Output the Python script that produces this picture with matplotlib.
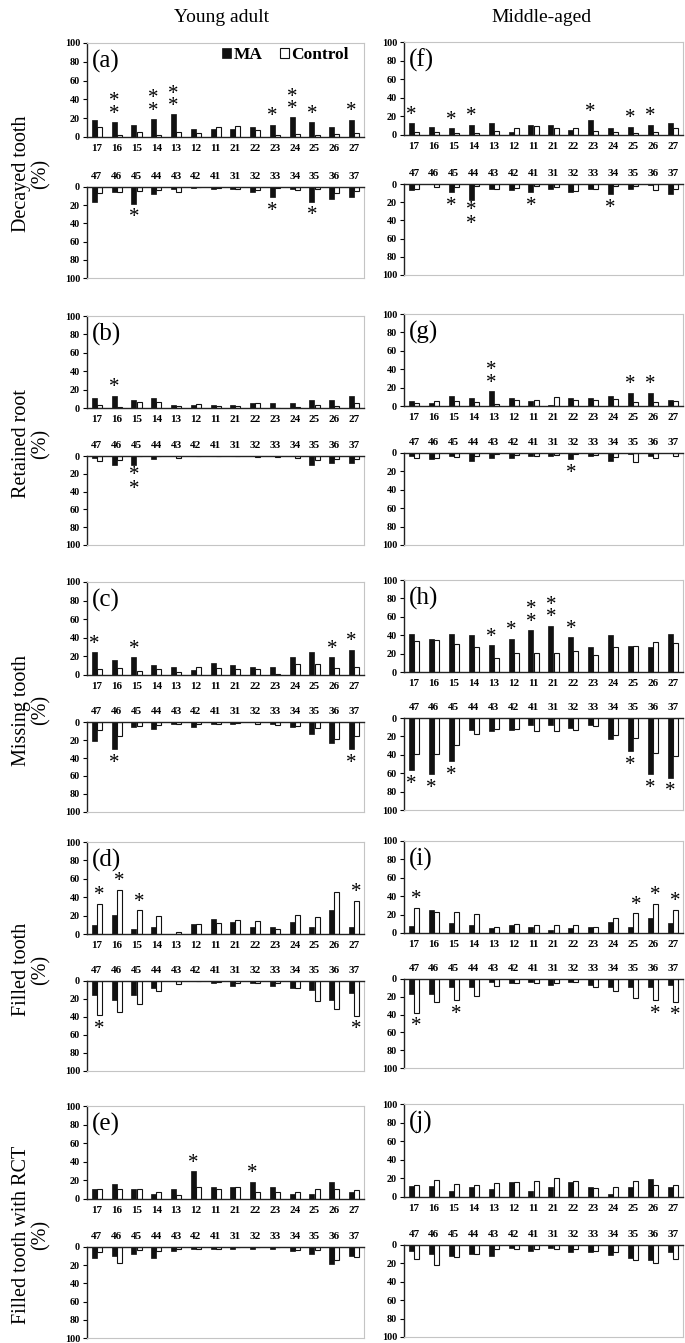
import matplotlib
matplotlib.use('Agg')
import matplotlib.pyplot as plt
import numpy as np

plt.rcParams['font.family'] = ['Liberation Serif', 'DejaVu Serif']

W, H = 685, 1343

upper_teeth = ['17', '16', '15', '14', '13', '12', '11', '21', '22', '23', '24', '25', '26', '27']
lower_teeth = ['47', '46', '45', '44', '43', '42', '41', '31', '32', '33', '34', '35', '36', '37']
row_labels = ['Decayed tooth', 'Retained root', 'Missing tooth', 'Filled tooth', 'Filled tooth with RCT']
col_titles = ['Young adult', 'Middle-aged']
series_names = ['MA', 'Control']

# ---------------- Young adult ----------------
a_up_ma = [18.6, 16, 13, 19, 24, 8, 8, 8, 10.5, 13, 21, 16, 10.5, 18.6]
a_up_ct = [10.5, 2, 5, 2, 5, 4, 11, 12, 7, 2, 3, 2, 3.5, 4]
a_up_sig = [0, 2, 0, 2, 2, 0, 0, 0, 0, 1, 2, 1, 0, 1]
a_lo_ma = [16, 5, 18.5, 7.5, 2.5, 1.5, 2, 2, 5, 11, 2.5, 16, 13, 11]
a_lo_ct = [6.5, 5, 4.5, 3, 5, 0.5, 1.5, 2, 3, 1.5, 3.5, 2, 6.5, 4.5]
a_lo_sig = [0, 0, 1, 0, 0, 0, 0, 0, 0, 1, 0, 1, 0, 0]

b_up_ma = [11, 13.3, 8.7, 11, 3, 3, 3, 3, 5.8, 5.8, 5.8, 8.7, 8.7, 13.3]
b_up_ct = [3.6, 1.5, 7, 6, 2, 4.3, 2, 2, 5.8, 0, 1, 3.6, 2.5, 5]
b_up_sig = [0, 1, 0, 0, 0, 0, 0, 0, 0, 0, 0, 0, 0, 0]
b_lo_ma = [2.5, 10, 10, 3, 0, 0, 0, 0, 0, 0, 0, 10, 8, 8]
b_lo_ct = [6, 4, 0, 0, 2.5, 0, 0, 0, 1.5, 1, 2, 4, 3.5, 3]
b_lo_sig = [0, 0, 2, 0, 0, 0, 0, 0, 0, 0, 0, 0, 0, 0]

c_up_ma = [24.5, 16, 19, 11, 8.3, 5, 13.3, 11, 8.3, 8.3, 19, 24.5, 19, 27]
c_up_ct = [6.5, 8, 4.3, 6, 3.6, 8.3, 8, 6, 6.5, 1, 12, 12, 7, 8.3]
c_up_sig = [1, 0, 1, 0, 0, 0, 0, 0, 0, 0, 0, 0, 1, 1]
c_lo_ma = [21, 30, 5, 7.6, 2.5, 5, 2.5, 2.5, 0, 2.5, 5, 13, 23, 30]
c_lo_ct = [9, 15, 4.4, 3, 2.5, 2.5, 2, 1, 2, 3.6, 4, 7, 19, 15]
c_lo_sig = [0, 1, 0, 0, 0, 0, 0, 0, 0, 0, 0, 0, 0, 1]

d_up_ma = [10, 21, 5, 8, 0, 10.5, 16, 13, 8, 8, 13, 8, 26.5, 8]
d_up_ct = [33, 48, 26, 20, 2.5, 11, 11.6, 15, 14, 5.5, 21, 19, 46, 36]
d_up_sig = [1, 1, 1, 0, 0, 0, 0, 0, 0, 0, 0, 0, 0, 1]
d_lo_ma = [15.6, 21, 15.6, 7.8, 0, 0, 2.6, 5, 2.6, 5, 7.8, 10.4, 21, 13.3]
d_lo_ct = [38, 34, 25, 10.7, 3, 0, 1, 2, 2, 2, 8, 22.6, 31, 38.5]
d_lo_sig = [1, 0, 0, 0, 0, 0, 0, 0, 0, 0, 0, 0, 0, 1]

e_up_ma = [11, 16, 11, 5, 11, 29.6, 13, 13, 18.6, 13, 5, 5, 18.6, 8]
e_up_ct = [11, 11, 11, 8, 4.3, 13, 11, 13, 7, 7, 8, 11, 11, 10]
e_up_sig = [0, 0, 0, 0, 0, 1, 0, 0, 1, 0, 0, 0, 0, 0]
e_lo_ma = [12.2, 10, 7.4, 12.2, 4.8, 2.6, 2.6, 2.2, 2.2, 2.2, 4.8, 7.4, 18.5, 10]
e_lo_ct = [5.5, 17.8, 3.7, 4.4, 1.8, 2.2, 2.2, 0, 0, 0, 3, 3.7, 14.8, 11]
e_lo_sig = [0] * 14

# ---------------- Middle-aged ----------------
f_up_ma = [12.6, 9, 7, 11, 12.6, 3.2, 11, 11, 5.4, 16, 7, 9, 11, 12.6]
f_up_ct = [3.6, 3.6, 2, 2, 4.7, 7, 10, 8, 8, 4.7, 3, 2, 3, 7]
f_up_sig = [1, 0, 1, 1, 0, 0, 0, 0, 0, 1, 0, 1, 1, 0]
f_lo_ma = [7, 0.5, 9, 18, 5, 7, 9, 6, 9, 5, 11.5, 5, 1, 10.5]
f_lo_ct = [6, 3.5, 3, 2.5, 5, 4, 2, 3, 8, 5, 2, 2, 7, 5]
f_lo_sig = [0, 0, 1, 2, 0, 0, 1, 0, 0, 0, 1, 0, 0, 0]

g_up_ma = [5, 3.3, 11, 9, 16.4, 9, 5, 1, 9, 9, 11, 14.6, 14.6, 7]
g_up_ct = [3.3, 5.5, 5, 4, 2.5, 6.6, 6.2, 9.5, 6, 6, 8, 4.4, 4.4, 5]
g_up_sig = [0, 0, 0, 0, 2, 0, 0, 0, 0, 0, 0, 1, 1, 0]
g_lo_ma = [3.3, 7, 3.3, 9, 5, 5, 3.3, 3.3, 7, 3.3, 9, 1.5, 3.6, 0]
g_lo_ct = [5, 5, 4.4, 3.6, 1, 2.5, 3.3, 2, 1.5, 2.5, 4.4, 10, 5, 3.3]
g_lo_sig = [0, 0, 0, 0, 0, 0, 0, 0, 1, 0, 0, 0, 0, 0]

h_up_ma = [41, 36.4, 41, 40, 29, 36, 45.5, 50.5, 38, 27, 40, 28.7, 27, 41.5]
h_up_ct = [33.5, 35.3, 30, 27, 15.6, 20.7, 20.7, 21, 22.5, 18, 27, 28.7, 33, 32]
h_up_sig = [0, 0, 0, 0, 1, 1, 2, 2, 1, 0, 0, 0, 0, 0]
h_lo_ma = [57, 61, 47, 13, 14.4, 13, 7.4, 7.4, 10.4, 7.4, 23.3, 36, 61, 65]
h_lo_ct = [39, 39, 29, 17, 12, 12, 14, 13.7, 13, 8.5, 18.5, 22, 38, 41]
h_lo_sig = [1, 1, 1, 0, 0, 0, 0, 0, 0, 0, 0, 1, 1, 1]

i_up_ma = [7.3, 25.5, 10.6, 8.8, 5, 8.8, 7, 3.3, 5, 7, 12.4, 7, 16, 10.6]
i_up_ct = [27.7, 22.3, 23, 21, 7, 10, 9, 9, 9, 7, 16, 21.5, 32, 25.5]
i_up_sig = [1, 0, 0, 0, 0, 0, 0, 0, 0, 0, 0, 1, 1, 1]
i_lo_ma = [16.3, 16.7, 9, 9, 3.3, 5, 3.3, 7, 3.3, 7, 9, 9, 9, 7]
i_lo_ct = [37.8, 26, 23.7, 19.3, 7.4, 5, 4.8, 4.8, 3.3, 9, 14, 21, 24, 25.6]
i_lo_sig = [1, 0, 1, 0, 0, 0, 0, 0, 0, 0, 0, 0, 1, 1]

j_up_ma = [12.2, 12.2, 6.8, 10.4, 8.6, 15.8, 6.8, 10.4, 15.8, 10.4, 3.2, 10.4, 19.7, 10.4]
j_up_ct = [13.3, 18, 14.3, 13.3, 15, 16.5, 17.6, 20.8, 17.6, 10, 10.8, 17.2, 13.3, 13]
j_up_sig = [0] * 14
j_lo_ma = [6, 9.3, 11.8, 9.3, 11.5, 3.7, 6, 3.7, 7.4, 7.4, 11, 14, 16, 7.4]
j_lo_ct = [14.8, 21.5, 13, 10, 4.4, 4.8, 4.8, 4.4, 4.4, 6.7, 7.4, 16.7, 19.6, 14.8]
j_lo_sig = [0] * 14

# letter, up_ma, up_ct, up_sig, lo_ma, lo_ct, lo_sig, which series carries the significance mark
panels = [
    [('(a)', a_up_ma, a_up_ct, a_up_sig, a_lo_ma, a_lo_ct, a_lo_sig, 'ma'),
     ('(b)', b_up_ma, b_up_ct, b_up_sig, b_lo_ma, b_lo_ct, b_lo_sig, 'ma'),
     ('(c)', c_up_ma, c_up_ct, c_up_sig, c_lo_ma, c_lo_ct, c_lo_sig, 'ma'),
     ('(d)', d_up_ma, d_up_ct, d_up_sig, d_lo_ma, d_lo_ct, d_lo_sig, 'ct'),
     ('(e)', e_up_ma, e_up_ct, e_up_sig, e_lo_ma, e_lo_ct, e_lo_sig, 'ma')],
    [('(f)', f_up_ma, f_up_ct, f_up_sig, f_lo_ma, f_lo_ct, f_lo_sig, 'ma'),
     ('(g)', g_up_ma, g_up_ct, g_up_sig, g_lo_ma, g_lo_ct, g_lo_sig, 'ma'),
     ('(h)', h_up_ma, h_up_ct, h_up_sig, h_lo_ma, h_lo_ct, h_lo_sig, 'ma'),
     ('(i)', i_up_ma, i_up_ct, i_up_sig, i_lo_ma, i_lo_ct, i_lo_sig, 'ct'),
     ('(j)', j_up_ma, j_up_ct, j_up_sig, j_lo_ma, j_lo_ct, j_lo_sig, 'ma')],
]

# layout in pixels
col_x = [(87, 364), (404, 683)]
rows_px = [
    [(43, 137, 187, 278), (316, 408, 456, 545), (582, 675, 722, 812), (842, 934, 981, 1071), (1106, 1199, 1247, 1338)],
    [(42, 135, 184, 275), (314, 406, 453, 545), (580, 672, 718, 810), (841, 933, 979, 1068), (1104, 1197, 1245, 1337)],
]

GRAY = '#c4c4c4'
PX = 0.72  # points per pixel
STAR_FS = 15
STAR_C = 8.6  # px from baseline to the centre of the asterisk glyph

fig = plt.figure(figsize=(W / 100, H / 100), dpi=100)


def rect(l, t, r, b):
    return [l / W, 1 - b / H, (r - l) / W, (b - t) / H]


def put_stars(ax, xs, vals, sig, upper):
    # va='baseline' anchors the baseline of the LAST line of a multi-line text
    for xi, v, n in zip(xs, vals, sig):
        if n == 0:
            continue
        s = '\n'.join(['*'] * n)
        if upper:
            c = 12                          # centre of the lowest star, px above the bar
            ls = 0.52
        else:
            c = -(10 if n == 1 else 20)     # centre of the lowest star, px below the bar
            ls = 0.62
        ax.annotate(s, xy=(xi, v), xytext=(0, (c - STAR_C) * PX), textcoords='offset points',
                    ha='center', va='baseline', fontsize=STAR_FS, linespacing=ls,
                    annotation_clip=False)


x = np.arange(14)
bw = 0.25
off = 0.13

for ci in range(2):
    l, r = col_x[ci]
    for ri in range(5):
        top, z_up, z_lo, bot = rows_px[ci][ri]
        letter, up_ma, up_ct, up_sig, lo_ma, lo_ct, lo_sig, sig_on = panels[ci][ri]

        # upper jaw
        ax = fig.add_axes(rect(l, top, r, z_up))
        b1 = ax.bar(x - off, up_ma, bw, color='#111111', edgecolor='#111111', lw=0.5)
        b2 = ax.bar(x + off, up_ct, bw, color='white', edgecolor='#111111', lw=0.8)
        ax.set_xlim(-0.5, 13.5)
        ax.set_ylim(0, 100)
        ax.set_yticks(range(0, 101, 20))
        ax.set_xticks(x)
        ax.set_xticklabels(upper_teeth, fontweight='bold', fontsize=8)
        ax.tick_params(axis='x', length=0, pad=5.0)
        ax.tick_params(axis='y', length=3, width=0.8, pad=2, labelsize=7.3)
        for t in ax.get_yticklabels():
            t.set_fontweight('bold')
        ax.spines['top'].set_color(GRAY)
        ax.spines['right'].set_color(GRAY)
        ax.spines['left'].set_color('#222222')
        ax.spines['bottom'].set_color('#222222')
        ax.spines['left'].set_linewidth(1.0)
        ax.spines['bottom'].set_linewidth(1.0)
        ax.text(0.016, 0.80, letter, transform=ax.transAxes, fontsize=18, ha='left', va='center')
        sx = x - off if sig_on == 'ma' else x + off
        sv = up_ma if sig_on == 'ma' else up_ct
        put_stars(ax, sx, sv, up_sig, True)
        if ci == 0 and ri == 0:
            ax.legend([b1, b2], series_names, loc='upper right', bbox_to_anchor=(0.945, 0.955),
                      frameon=False, ncol=2, handlelength=0.5, handleheight=0.5,
                      handletextpad=0.15, columnspacing=1.0, borderaxespad=0, borderpad=0,
                      prop={'weight': 'bold', 'size': 12.5})

        # lower jaw
        ax2 = fig.add_axes(rect(l, z_lo, r, bot))
        ax2.bar(x - off, lo_ma, bw, color='#111111', edgecolor='#111111', lw=0.5)
        ax2.bar(x + off, lo_ct, bw, color='white', edgecolor='#111111', lw=0.8)
        ax2.set_xlim(-0.5, 13.5)
        ax2.set_ylim(100, 0)
        ax2.set_yticks(range(0, 101, 20))
        ax2.xaxis.tick_top()
        ax2.set_xticks(x)
        ax2.set_xticklabels(lower_teeth, fontweight='bold', fontsize=8)
        ax2.tick_params(axis='x', length=0, pad=4.0)
        ax2.tick_params(axis='y', length=3, width=0.8, pad=2, labelsize=7.3)
        for t in ax2.get_yticklabels():
            t.set_fontweight('bold')
        ax2.spines['bottom'].set_color(GRAY)
        ax2.spines['right'].set_color(GRAY)
        ax2.spines['left'].set_color('#222222')
        ax2.spines['top'].set_color('#222222')
        ax2.spines['left'].set_linewidth(1.0)
        ax2.spines['top'].set_linewidth(1.0)
        sx = x - off if sig_on == 'ma' else x + off
        sv = lo_ma if sig_on == 'ma' else lo_ct
        put_stars(ax2, sx, sv, lo_sig, False)

        if ci == 0:
            yc = (top + bot) / 2 + 13
            fig.text(31 / W, 1 - yc / H, row_labels[ri] + '\n(%)', rotation=90, ha='center',
                     va='center', fontsize=14.5, linespacing=1.0)

fig.text(222 / W, 1 - 17 / H, col_titles[0], fontsize=14, ha='center', va='center')
fig.text(541 / W, 1 - 17 / H, col_titles[1], fontsize=14, ha='center', va='center')

fig.savefig('out.png', dpi=100)
